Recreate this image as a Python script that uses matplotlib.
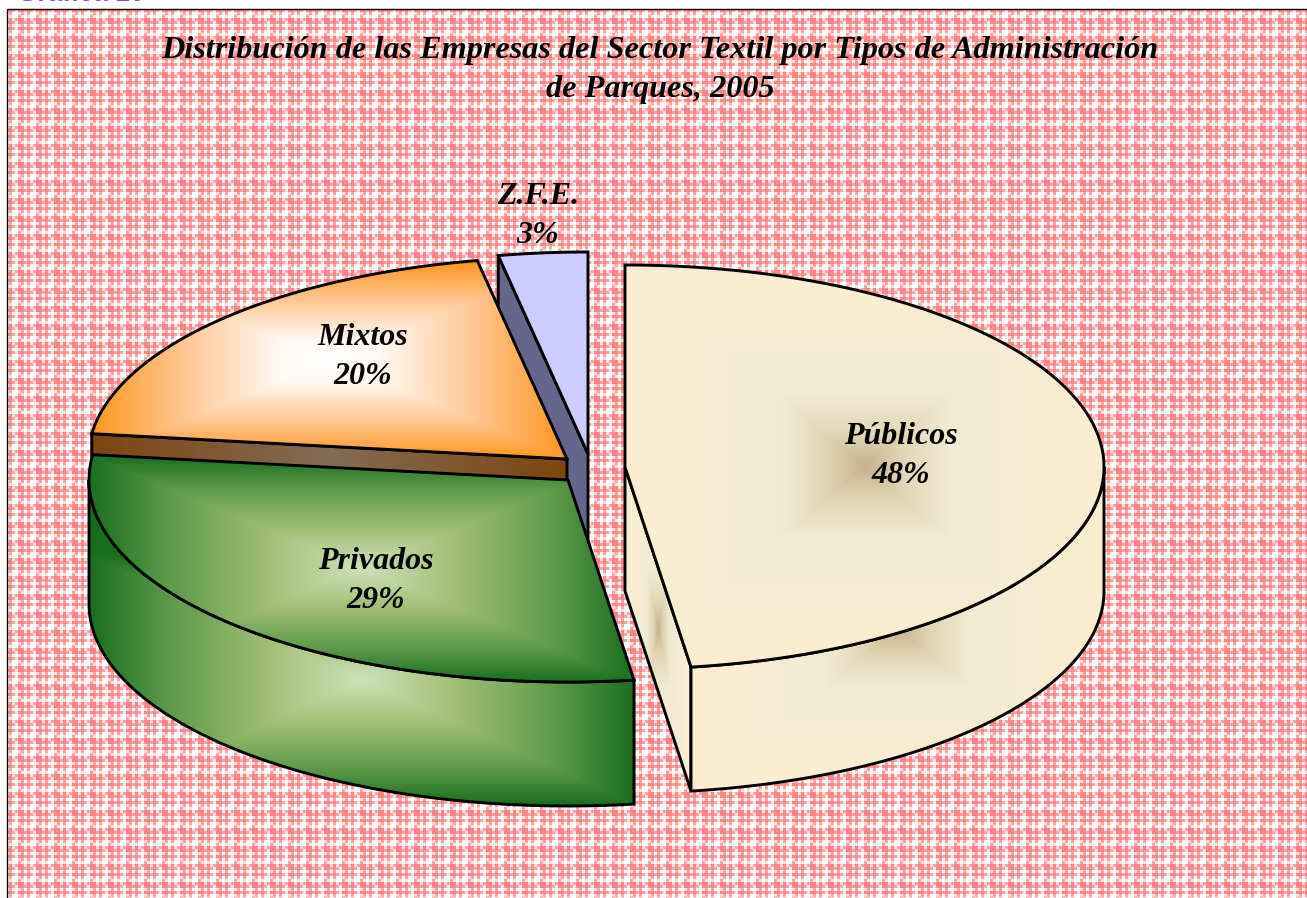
import numpy as np
import matplotlib
matplotlib.use('Agg')
import matplotlib.pyplot as plt
from matplotlib.patches import Polygon, Rectangle

categories = ['Públicos', 'Privados', 'Mixtos', 'Z.F.E.']
shares = [47.8, 29.2, 20.0, 3.0]   # percent
title = 'Distribución de las Empresas del Sector Textil por Tipos de Administración\nde Parques, 2005'
heading = 'Gráfica 10'

W, H = 1307, 898
rx, ry = 479, 202   # radii of the pie ellipse [px]
depth = 124         # height of the pie [px]

# where each exploded slice has its tip on the top face:
tips = [(625, 467), (568, 480), (567, 459), (588, 454)]
label_pos = [(901, 456), (376, 581), (363, 357), (538, 216)]

green = [(0, (205, 225, 185)), (0.35, (160, 190, 115)), (0.7, (95, 155, 75)), (1, (25, 110, 30))]
orange = [(0, (255, 255, 255)), (0.2, (255, 250, 245)), (0.6, (255, 200, 150)), (1, (255, 150, 30))]
cream = [(0, (198, 178, 138)), (0.15, (225, 212, 180)), (0.35, (241, 235, 212)), (1, (253, 238, 210))]
brown = [(0, (132, 108, 85)), (1, (125, 70, 15))]


def ellipse_point(tip, angle):
    # angle in degrees, clockwise from the top of the pie
    a = np.radians(angle)
    return tip[0] + rx*np.sin(a), tip[1] - ry*np.cos(a)


def arc(tip, a0, a1):
    angles = np.linspace(a0, a1, 200)
    return [ellipse_point(tip, a) for a in angles]


def plaid():
    # pink and white woven background, mixed cells alternate like a weave
    band = np.array([1, 1, 0, 1, 0, 0])
    cx = np.arange(W)//3
    cy = np.arange(H)//3
    a = band[cy % 6][:, None]
    b = band[cx % 6][None, :]
    weave = (cy[:, None] + cx[None, :]) % 2
    v = np.where(a == b, a*1.0, 0.25 + 0.5*weave)
    white = np.array([255, 255, 255])/255
    pink = np.array([255, 132, 132])/255
    return white + v[..., None]*(pink - white)


def rect_gradient(ax, points, box, stops):
    # rectangular gradient from the center of box, clipped to the polygon
    x0, x1, y0, y1 = box
    xs = np.arange(W)
    ys = np.arange(H)
    u = np.abs(xs + 0.5 - (x0 + x1)/2)/((x1 - x0)/2)
    v = np.abs(ys + 0.5 - (y0 + y1)/2)/((y1 - y0)/2)
    t = np.maximum(u[None, :], v[:, None])
    ts = [s[0] for s in stops]
    img = np.stack([np.interp(t, ts, [s[1][c]/255 for s in stops]) for c in range(3)], axis=-1)
    im = ax.imshow(img, extent=(0, W, H, 0), interpolation='bilinear', aspect='auto', zorder=2)
    poly = Polygon(points, closed=True, fc='none', ec='k', lw=2.1, joinstyle='miter', zorder=2)
    ax.add_patch(poly)
    im.set_clip_path(poly)
    return poly


def flat_face(ax, points, color):
    ax.add_patch(Polygon(points, closed=True, fc=color, ec='k', lw=2.1, joinstyle='miter', zorder=2))


def wedge(tip, a0, a1):
    return [tip] + arc(tip, a0, a1)


def cut_face(tip, angle):
    p = ellipse_point(tip, angle)
    return [tip, p, (p[0], p[1] + depth), (tip[0], tip[1] + depth)]


def outer_wall(tip, a0, a1):
    top = arc(tip, a0, a1)
    return top + [(x, y + depth) for x, y in top[::-1]]


fig = plt.figure(figsize=(W/100, H/100), dpi=100)
ax = fig.add_axes([0, 0, 1, 1])
ax.imshow(plaid()[9:, 7:], extent=(7, W, H, 9), interpolation='nearest', aspect='auto', zorder=0)
ax.add_patch(Rectangle((6.5, 8.5), W, H, fc='none', ec='k', lw=1, zorder=1))

edges = np.concatenate([[0], np.cumsum(shares)])*3.6
(pub0, pub1), (pri0, pri1), (mix0, mix1), (zfe0, zfe1) = zip(edges[:-1], edges[1:])
pub, pri, mix, zfe = tips

# back to front: Z.F.E., Mixtos, Privados, Públicos
flat_face(ax, cut_face(zfe, zfe0), '#66668c')
flat_face(ax, wedge(zfe, zfe0, zfe1), '#ccccff')

rect_gradient(ax, cut_face(mix, mix0), (92, 567, -1500, 2500), brown)
rect_gradient(ax, wedge(mix, mix0, mix1), (92, 567, 262, 459), orange)

rect_gradient(ax, outer_wall(pri, pri0, 270), (89, 635, 555, 805), green)
rect_gradient(ax, wedge(pri, pri0, pri1), (89, 635, 455, 682), green)

rect_gradient(ax, cut_face(pub, pub1), (625, 692, 465, 793), cream)
rect_gradient(ax, outer_wall(pub, 90, pub1), (692, 1104, 465, 793), cream)
rect_gradient(ax, wedge(pub, pub0, pub1), (625, 1104, 265, 668), cream)

serif = dict(family='Liberation Serif', style='italic', weight='bold', color='k')
for name, share, pos in zip(categories, shares, label_pos):
    ax.text(pos[0], pos[1], f'{name}\n{share:.0f}%', ha='center', va='center',
            fontsize=23, linespacing=1.45, zorder=3, **serif)
ax.text(660, 70, title, ha='center', va='center', fontsize=23.2, linespacing=1.42, zorder=3, **serif)
ax.text(17, 1, heading, ha='left', va='baseline', fontsize=19, weight='bold',
        family='Liberation Sans', color='#5a5aff', zorder=3)

ax.set_xlim(0, W)
ax.set_ylim(H, 0)
ax.axis('off')
fig.savefig('out.png', dpi=100)
